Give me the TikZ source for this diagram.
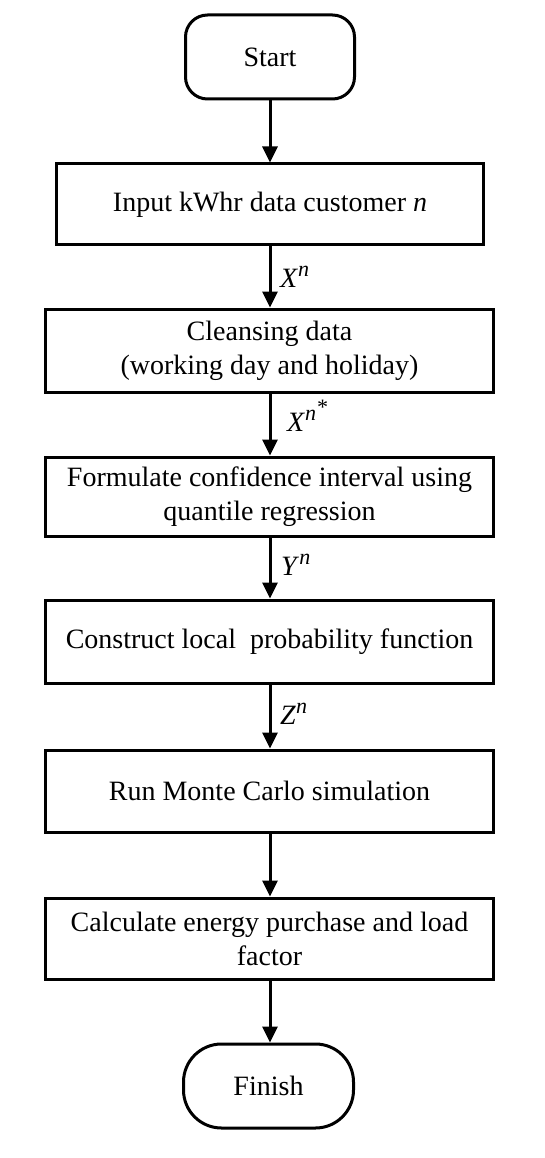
\documentclass[tikz,border=0pt]{standalone}
\usepackage{fontspec}
\setmainfont{Liberation Serif}
\usetikzlibrary{arrows.meta}
\newcommand{\myvar}[2]{\textit{#1}\raisebox{11pt}{\fontsize{22}{22}\selectfont\itshape #2}}
\begin{document}
\begin{tikzpicture}[x=1pt,y=-1pt,
  every node/.style={font=\fontsize{28}{34}\selectfont},
  procbox/.style={draw, line width=3pt, align=center, inner sep=0pt},
  termbox/.style={draw, line width=3pt, align=center, inner sep=0pt, minimum width=169pt, minimum height=84pt},
  arr/.style={line width=3pt, -{Triangle[length=16pt,width=15pt]}},
  lab/.style={anchor=base west, inner sep=0pt, font=\fontsize{28}{34}\selectfont}]
\useasboundingbox (0,0) rectangle (544,1158);
\node[termbox, rounded corners=22pt] (start) at (270,57) {Start};
\node[procbox, minimum width=427pt, minimum height=81pt] (b1) at (270,204.5) {Input kWhr data customer \textit{n}};
\node[procbox, minimum width=448pt, minimum height=83pt] (b2) at (269.5,350.5) {Cleansing data\\(working day and holiday)};
\node[procbox, minimum width=448pt, minimum height=79pt] (b3) at (269.5,496.5) {Formulate confidence interval using\\quantile regression};
\node[procbox, minimum width=448pt, minimum height=83pt] (b4) at (269.5,641.5) {Construct local~ probability function};
\node[procbox, minimum width=448pt, minimum height=82pt] (b5) at (269.5,791) {Run Monte Carlo simulation};
\node[procbox, minimum width=448pt, minimum height=81pt] (b6) at (269.5,938.5) {Calculate energy purchase and load\\factor};
\node[termbox, rounded corners=38pt, minimum width=170pt] (finish) at (268.5,1086) {Finish};
\draw[arr] (start.south -| 270,0) -- (b1.north -| 270,0);
\draw[arr] (b1.south -| 270,0) -- (b2.north -| 270,0);
\draw[arr] (b2.south -| 270,0) -- (b3.north -| 270,0);
\draw[arr] (b3.south -| 270,0) -- (b4.north -| 270,0);
\draw[arr] (b4.south -| 270,0) -- (b5.north -| 270,0);
\draw[arr] (b5.south -| 270,0) -- (b6.north -| 270,0);
\draw[arr] (b6.south -| 270,0) -- (finish.north -| 270,0);
\node[lab] (l1) at (280,287) {\myvar{X}{n}};
\node[lab] (l2) at (287,431) {\myvar{X}{n\raisebox{6pt}{*}}};
\node[lab] (l3) at (281,575) {\myvar{Y}{n}};
\node[lab] (l4) at (280,724) {\myvar{Z}{n}};
\end{tikzpicture}
\end{document}
